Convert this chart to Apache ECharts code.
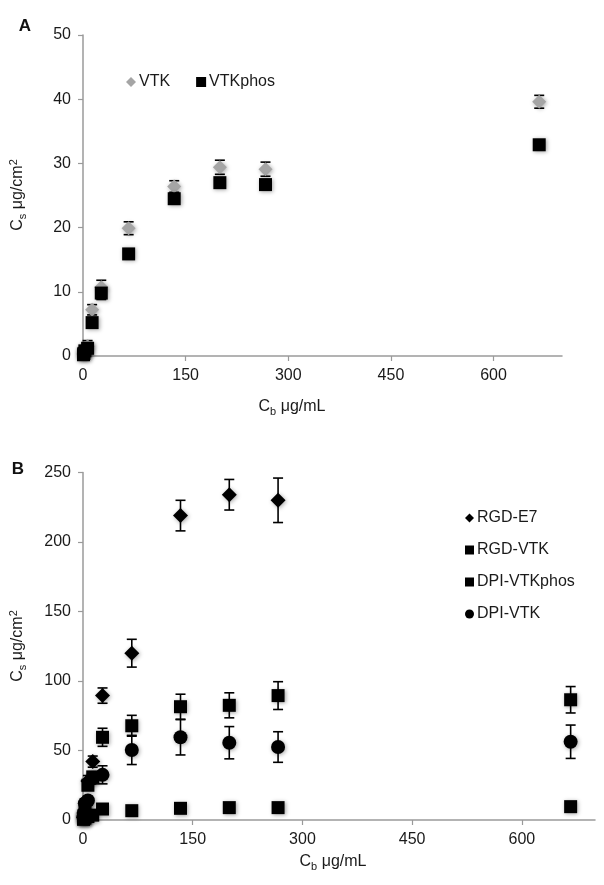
<!DOCTYPE html>
<html>
<head>
<meta charset="utf-8">
<script src="https://cdn.jsdelivr.net/npm/echarts@6/dist/echarts.min.js"></script>
<style>
html,body{margin:0;padding:0;background:#fff;}
#c{width:604px;height:885px;}
</style>
</head>
<body>
<div id="c"></div>
<script>
// ---------- Panel A data ----------
const xA = [0.7, 1.3, 2.7, 6.7, 13.3, 26.7, 66.7, 133.3, 200, 266.7, 666.7];
const vtk = [0.3, 0.6, 1.0, 1.5, 7.2, 10.7, 19.9, 26.4, 29.4, 29.1, 39.6];
const vtkErr = [0.3, 0.4, 0.6, 0.9, 0.8, 1.1, 1.0, 0.9, 1.1, 1.1, 1.0];
const vtkphos = [0.2, 0.4, 0.8, 1.2, 5.2, 9.8, 15.9, 24.5, 27.0, 26.7, 32.9];
const vtkphosErr = [0.2, 0.3, 0.5, 0.6, 0.6, 1.0, 0.8, 0.6, 0.7, 0.7, 0.5];
const xTicks = [0, 150, 300, 450, 600];
const yTicksA = [0, 10, 20, 30, 40, 50];

// ---------- Panel B data ----------
const xB = [0.7, 1.3, 2.7, 6.7, 13.3, 26.7, 66.7, 133.3, 200, 266.7, 666.7];
const rgdE7 = [2, 5, 12, 28, 42, 89.5, 120, 219, 234, 230, null];
const rgdE7Err = [1, 2, 3, 4, 4, 5.5, 10, 11, 11, 16, null];
const rgdVtk = [1, 3, 8, 25, 31, 59.5, 67.8, 81.5, 82.5, 89.5, 86.5];
const rgdVtkErr = [0.5, 1, 2, 2, 3, 6.5, 7.5, 9, 9, 10, 9.5];
const dpiVtkphos = [0.5, 1, 1.5, 2.5, 3.5, 7.9, 6.7, 8.4, 8.9, 8.9, 9.6];
const dpiVtkphosErr = [0.2, 0.3, 0.5, 0.5, 0.8, 1, 0.8, 0.8, 0.8, 0.8, 0.8];
const dpiVtk = [2, 5, 12, 14, 30, 32.5, 50.4, 59.5, 55.6, 52.5, 56.3];
const dpiVtkErr = [1, 2, 3, 3, 4, 6.5, 10.5, 12.7, 11.6, 11, 12];
const yTicksB = [0, 50, 100, 150, 200, 250];

const FONT = "'Liberation Sans', Arial, sans-serif";
const TXT = '#1a1a1a';
const AX = '#9a9a9a';

function pts(xs, ys, es) {
  const out = [];
  xs.forEach((x, i) => { if (ys[i] != null) out.push([x, ys[i], es ? es[i] : 0]); });
  return out;
}

function errSeries(name, xi, data) {
  return {
    name: name, type: 'custom', xAxisIndex: xi, yAxisIndex: xi, z: 1,
    encode: { x: 0, y: 1 },
    data: data,
    renderItem: function (params, api) {
      const x = api.value(0), y = api.value(1), e = api.value(2);
      const lo = api.coord([x, y - e]);
      const hi = api.coord([x, y + e]);
      const w = 5;
      const st = { stroke: '#000', lineWidth: 1.6 };
      return {
        type: 'group',
        children: [
          { type: 'line', shape: { x1: lo[0], y1: lo[1], x2: hi[0], y2: hi[1] }, style: st },
          { type: 'line', shape: { x1: lo[0] - w, y1: lo[1], x2: lo[0] + w, y2: lo[1] }, style: st },
          { type: 'line', shape: { x1: hi[0] - w, y1: hi[1], x2: hi[0] + w, y2: hi[1] }, style: st }
        ]
      };
    }
  };
}

const shadow = { shadowBlur: 4, shadowColor: 'rgba(0,0,0,0.35)', shadowOffsetX: 1, shadowOffsetY: 1 };

function scatter(name, xi, data, symbol, size, color) {
  return {
    name: name, type: 'scatter', xAxisIndex: xi, yAxisIndex: xi, z: 2,
    symbol: symbol, symbolSize: size,
    itemStyle: Object.assign({ color: color, opacity: 1 }, shadow),
    emphasis: { disabled: true },
    data: data.map(d => [d[0], d[1]])
  };
}

function xAxis(gi) {
  return {
    type: 'value', gridIndex: gi, min: 0, max: 700, interval: 150,
    axisLine: { show: true, lineStyle: { color: AX, width: 1.5 } },
    axisTick: { show: true, length: 5, lineStyle: { color: AX, width: 1.2 }, customValues: xTicks },
    axisLabel: { fontSize: 16, fontFamily: FONT, color: TXT, margin: 12, customValues: xTicks },
    splitLine: { show: false }
  };
}
function yAxis(gi, max, interval) {
  return {
    type: 'value', gridIndex: gi, min: 0, max: max, interval: interval,
    axisLine: { show: true, lineStyle: { color: AX, width: 1.5 } },
    axisTick: { show: true, length: 5, lineStyle: { color: AX, width: 1.2 } },
    axisLabel: { fontSize: 16, fontFamily: FONT, color: TXT, margin: 12 },
    splitLine: { show: false }
  };
}

const rich = {
  s: { fontSize: 11, fontFamily: FONT, fill: TXT, padding: [9, 0, 0, 0] },
  p: { fontSize: 11, fontFamily: FONT, fill: TXT, padding: [0, 0, 9, 0] }
};
function title(text, x, y, rot) {
  return {
    type: 'text', x: x, y: y, rotation: rot || 0,
    style: { text: text, rich: rich, fontSize: 16, fontFamily: FONT, fill: TXT, align: 'center', verticalAlign: 'middle' }
  };
}

const chart = echarts.init(document.getElementById('c'), null, { renderer: 'canvas' });
chart.setOption({
  animation: false,
  backgroundColor: '#fff',
  grid: [
    { left: 83, top: 35, width: 479, height: 321 },
    { left: 83, top: 472.5, width: 512, height: 347.5 }
  ],
  xAxis: [xAxis(0), xAxis(1)],
  yAxis: [yAxis(0, 50, 10), yAxis(1, 250, 50)],
  legend: [
    {
      orient: 'horizontal', left: 121, top: 69, itemGap: 26, itemWidth: 10, itemHeight: 10,
      textStyle: { fontSize: 16, fontFamily: FONT, color: TXT, padding: [0, 0, 0, -2] },
      data: [{ name: 'VTK', icon: 'diamond' }, { name: 'VTKphos', icon: 'rect' }],
      selectedMode: false
    },
    {
      orient: 'vertical', left: 460, top: 505, itemGap: 16, itemWidth: 9, itemHeight: 9,
      textStyle: { fontSize: 16, fontFamily: FONT, color: TXT, padding: [0, 0, 0, -2] },
      data: [
        { name: 'RGD-E7', icon: 'diamond' },
        { name: 'RGD-VTK', icon: 'rect' },
        { name: 'DPI-VTKphos', icon: 'rect' },
        { name: 'DPI-VTK', icon: 'circle' }
      ],
      selectedMode: false
    }
  ],
  graphic: [
    { type: 'text', x: 25, y: 26, style: { text: 'A', fontSize: 17, fontWeight: 'bold', fontFamily: FONT, fill: '#111', align: 'center', verticalAlign: 'middle' } },
    { type: 'text', x: 18, y: 469, style: { text: 'B', fontSize: 17, fontWeight: 'bold', fontFamily: FONT, fill: '#111', align: 'center', verticalAlign: 'middle' } },
    title('C{s|s} μg/cm{p|2}', 18, 195, Math.PI / 2),
    title('C{s|b} μg/mL', 292, 407, 0),
    title('C{s|s} μg/cm{p|2}', 18, 646, Math.PI / 2),
    title('C{s|b} μg/mL', 333, 862, 0)
  ],
  series: [
    errSeries('errVTK', 0, pts(xA, vtk, vtkErr)),
    errSeries('errVTKphos', 0, pts(xA, vtkphos, vtkphosErr)),
    scatter('VTK', 0, pts(xA, vtk), 'diamond', 14, '#a5a5a5'),
    scatter('VTKphos', 0, pts(xA, vtkphos), 'rect', 13, '#000'),

    errSeries('errRGDE7', 1, pts(xB, rgdE7, rgdE7Err)),
    errSeries('errRGDVTK', 1, pts(xB, rgdVtk, rgdVtkErr)),
    errSeries('errDPIVTKphos', 1, pts(xB, dpiVtkphos, dpiVtkphosErr)),
    errSeries('errDPIVTK', 1, pts(xB, dpiVtk, dpiVtkErr)),
    scatter('RGD-E7', 1, pts(xB, rgdE7), 'diamond', 15, '#000'),
    scatter('RGD-VTK', 1, pts(xB, rgdVtk), 'rect', 13, '#000'),
    scatter('DPI-VTKphos', 1, pts(xB, dpiVtkphos), 'rect', 13, '#000'),
    scatter('DPI-VTK', 1, pts(xB, dpiVtk), 'circle', 14, '#000')
  ]
});
</script>
</body>
</html>
